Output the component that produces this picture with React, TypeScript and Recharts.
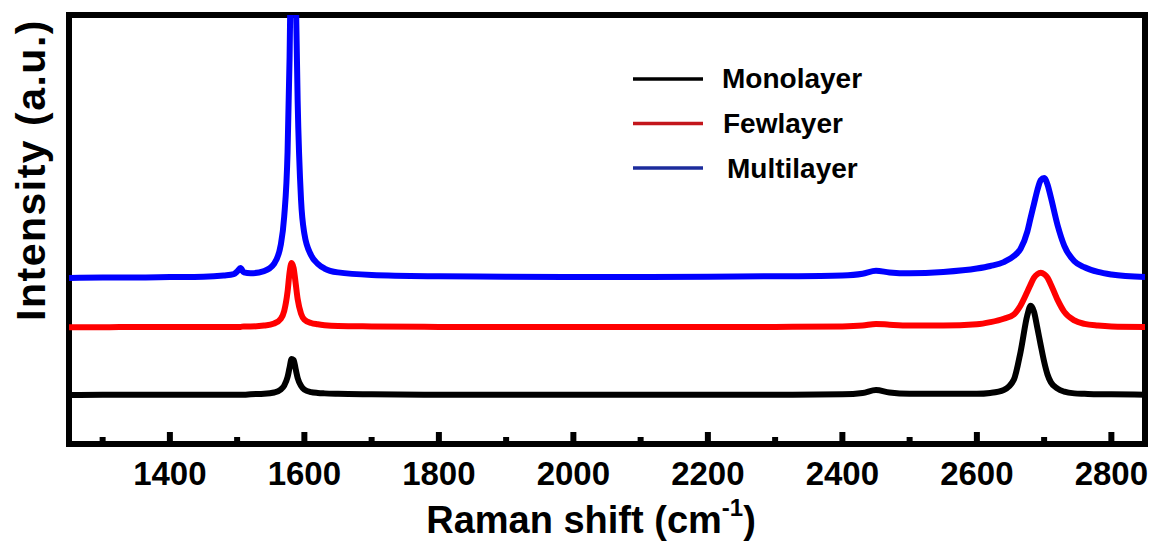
import { LineChart, Line, XAxis, YAxis, ReferenceArea, Legend } from 'recharts'

const FONT = '"Liberation Sans", Arial, Helvetica, sans-serif'

// Raman shift (cm-1) sample positions
const shifts = [
  1250, 1300, 1350, 1400, 1450, 1480, 1495, 1500, 1505, 1510,
  1520, 1540, 1555, 1565, 1570, 1575, 1578, 1581, 1584, 1587,
  1590, 1595, 1600, 1610, 1620, 1630, 1650, 1700, 1800, 1900,
  2000, 2100, 2200, 2300, 2400, 2430, 2450, 2470, 2500, 2550,
  2600, 2620, 2640, 2655, 2665, 2675, 2680, 2685, 2690, 2695,
  2700, 2705, 2710, 2720, 2730, 2745, 2760, 2780, 2800, 2850,
]

const monolayer = [
  11.4, 11.5, 11.5, 11.5, 11.5, 11.5, 11.5, 11.5, 11.5, 11.5,
  11.6, 11.7, 12.0, 12.7, 13.6, 15.6, 17.8, 19.8, 19.6, 17.5,
  15.4, 13.6, 12.7, 12.1, 11.9, 11.8, 11.7, 11.6, 11.5, 11.5,
  11.5, 11.5, 11.5, 11.5, 11.6, 11.9, 12.6, 12.0, 11.7, 11.7,
  11.7, 11.9, 12.6, 15.0, 21.5, 30.0, 32.2, 30.8, 27.0, 23.0,
  19.2, 16.2, 14.4, 12.9, 12.2, 11.8, 11.7, 11.6, 11.6, 11.5,
]

const fewlayer = [
  27.2, 27.2, 27.3, 27.3, 27.3, 27.3, 27.3, 27.3, 27.3, 27.4,
  27.4, 27.6, 28.1, 29.2, 31.0, 35.5, 40.0, 42.2, 41.0, 37.5,
  33.8, 30.4, 29.0, 28.2, 27.9, 27.7, 27.5, 27.4, 27.3, 27.3,
  27.3, 27.3, 27.3, 27.3, 27.4, 27.6, 28.0, 27.8, 27.6, 27.6,
  27.9, 28.4, 29.2, 30.2, 32.3, 35.5, 37.2, 38.8, 39.6, 39.9,
  39.6, 38.8, 37.2, 33.6, 30.8, 28.8, 28.0, 27.6, 27.4, 27.3,
]

const multilayer = [
  38.7, 38.8, 38.8, 38.9, 39.0, 39.3, 39.6, 40.2, 41.0, 40.0,
  39.8, 40.3, 42.0, 46.5, 53.0, 68.0, 90.0, 125.0, 138.0, 108.0,
  80.0, 57.0, 49.0, 44.0, 42.0, 40.9, 40.0, 39.4, 39.1, 39.0,
  38.9, 38.9, 39.0, 39.1, 39.3, 39.7, 40.4, 40.0, 39.8, 40.1,
  40.9, 41.5, 42.4, 43.8, 45.5, 49.5, 52.8, 56.0, 59.2, 61.5,
  62.0, 60.5, 57.5, 51.0, 46.2, 42.6, 41.2, 40.1, 39.5, 38.9,
]

const tickValues = [1300, 1400, 1500, 1600, 1700, 1800, 1900, 2000, 2100, 2200, 2300, 2400, 2500, 2600, 2700, 2800]
const labeledTicks = [1400, 1600, 1800, 2000, 2200, 2400, 2600, 2800]

const legendItems = [
  { name: 'Monolayer', color: '#000000', textX: 102 },
  { name: 'Fewlayer', color: '#c3161c', textX: 103 },
  { name: 'Multilayer', color: '#1c2c9c', textX: 107 },
]

const data = shifts.map((s, i) => ({
  shift: s,
  mono: monolayer[i],
  few: fewlayer[i],
  multi: multilayer[i],
}))

function ShiftTick(props: any) {
  const { x, y, payload } = props
  const major = labeledTicks.includes(payload.value)
  return (
    <g>
      <line x1={x} x2={x} y1={y} y2={y - (major ? 12 : 7)} stroke="#000" strokeWidth={6} />
      {major && (
        <text x={x} y={y + 41} textAnchor="middle" fontSize={33} fontWeight="bold" fontFamily={FONT} fill="#000">
          {payload.value}
        </text>
      )}
    </g>
  )
}

function LegendBox() {
  return (
    <svg width={280} height={140}>
      {legendItems.map((item, i) => (
        <g key={item.name}>
          <line x1={13} x2={83} y1={24 + i * 44.5} y2={24 + i * 44.5} stroke={item.color} strokeWidth={3.5} />
          <text x={item.textX} y={33 + i * 45} fontSize={28} fontWeight="bold" fontFamily={FONT} fill="#000">
            {item.name}
          </text>
        </g>
      ))}
    </svg>
  )
}

export default function App() {
  return (
    <div style={{ position: 'absolute', left: 0, top: 0, background: '#fff' }}>
      <LineChart width={1152} height={546} data={data} margin={{ top: 15, right: 7, bottom: 0, left: 0 }}>
        <XAxis
          dataKey="shift"
          type="number"
          domain={[1250, 2850]}
          ticks={tickValues}
          interval={0}
          height={102}
          axisLine={false}
          tickLine={false}
          tickSize={0}
          tickMargin={0}
          tick={(p: any) => <ShiftTick {...p} />}
          label={() => (
            <text x={591} y={533} textAnchor="middle" fontSize={38} fontWeight="bold" fontFamily={FONT} fill="#000">
              Raman shift (cm
              <tspan fontSize={24} dy={-17}>-1</tspan>
              <tspan dy={17}>)</tspan>
            </text>
          )}
        />
        <YAxis
          type="number"
          domain={[0, 100]}
          allowDataOverflow
          width={69}
          axisLine={false}
          tickLine={false}
          tick={false}
          label={() => (
            <text
              x={45}
              y={170}
              transform="rotate(-90 45 170)"
              textAnchor="middle"
              fontSize={41}
              fontWeight="bold"
              fontFamily={FONT}
              fill="#000"
              letterSpacing={1.5}
            >
              Intensity (a.u.)
            </text>
          )}
        />
        <Line type="monotone" dataKey="mono" name="Monolayer" stroke="#000000" strokeWidth={6} dot={false} isAnimationActive={false} />
        <Line type="monotone" dataKey="few" name="Fewlayer" stroke="#ff0000" strokeWidth={6} dot={false} isAnimationActive={false} />
        <Line type="monotone" dataKey="multi" name="Multilayer" stroke="#0000ff" strokeWidth={6} dot={false} isAnimationActive={false} />
        <ReferenceArea x1={1250} x2={2850} y1={0} y2={100} fill="none" stroke="#000" strokeWidth={6} ifOverflow="visible" />
        <Legend
          layout="vertical"
          align="center"
          verticalAlign="middle"
          wrapperStyle={{ left: 620, top: 55, width: 280, height: 140 }}
          content={() => <LegendBox />}
        />
      </LineChart>
    </div>
  )
}
